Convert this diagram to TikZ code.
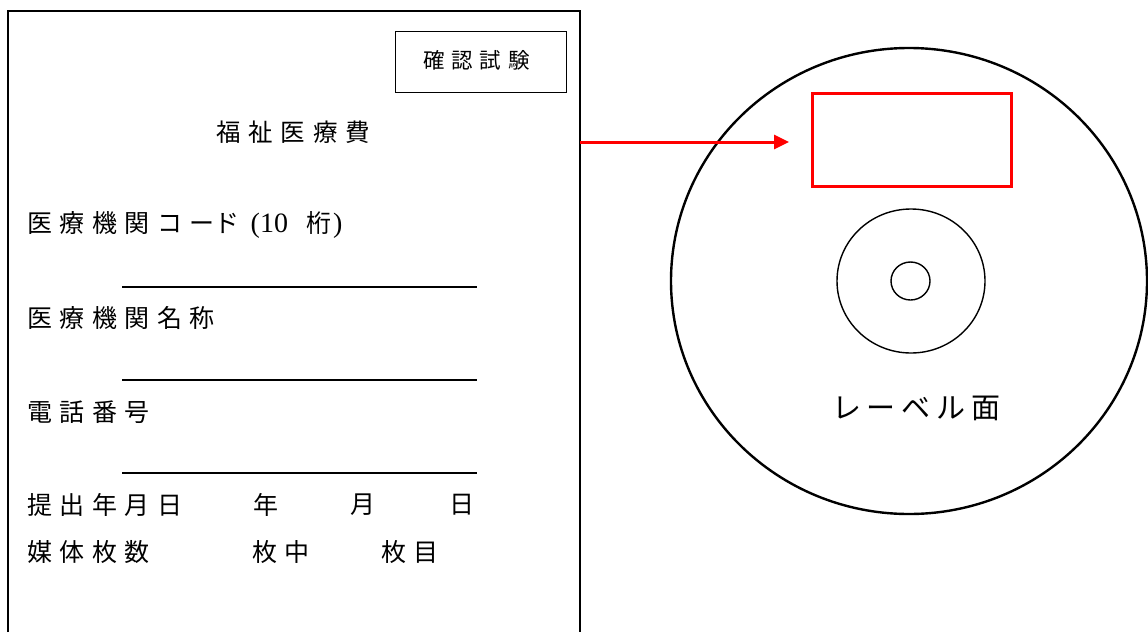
\documentclass[tikz,border=0pt]{standalone}
\usepackage{fontspec}
\setmainfont{Liberation Serif}
\newfontfamily\cjk{Noto Sans CJK JP}[LetterSpace=30]
\newfontfamily\cjkn{Noto Sans CJK JP}
\newfontfamily\cjkt{Noto Sans CJK JP}[LetterSpace=32]
\newfontfamily\cjkb{Noto Sans CJK JP}[LetterSpace=20]
\usetikzlibrary{arrows.meta,shapes.geometric}
\begin{document}
\begin{tikzpicture}[x=1pt,y=-1pt,
  txt/.style={anchor=west,inner sep=0pt,font=\fontsize{25}{28}\selectfont\cjk},
  uline/.style={line width=2pt},
  redbox/.style={draw=red,line width=3pt,minimum width=199pt,minimum height=93pt,inner sep=0pt},
  redarrow/.style={draw=red,line width=3pt,-{Triangle[length=15pt,width=14pt]}}]
\useasboundingbox (0,0) rectangle (1148,632);
% card
\draw[line width=1.6pt] (8,632) -- (8,11) -- (580,11) -- (580,632);
\coordinate (cardE) at (580,142);
\node[draw,line width=1.4pt,minimum width=171pt,minimum height=61pt,inner sep=0pt] (test) at (481,62) {};
\node[anchor=west,inner sep=0pt,font=\fontsize{21.5}{24}\selectfont\cjkt] (testlbl) at (423,60) {確認試験};
\node[anchor=west,inner sep=0pt,font=\fontsize{24.5}{28}\selectfont\cjkt] (title) at (216,132) {福祉医療費};
\node[txt] (code) at (27,225) {医療機関コー{\cjkn ド}\hspace{11pt}{\rmfamily\fontsize{28}{30}\selectfont(10}\hspace{18pt}{\cjkn 桁}\hspace{2pt}{\rmfamily\fontsize{28}{30}\selectfont)}};
\coordinate (l1a) at (122,287); \coordinate (l1b) at (477,287);
\draw[uline] (l1a) -- (l1b);
\node[txt] (name) at (27,318) {医療機関名称};
\coordinate (l2a) at (122,380); \coordinate (l2b) at (477,380);
\draw[uline] (l2a) -- (l2b);
\node[txt] (tel) at (27,412) {電話番号};
\coordinate (l3a) at (122,473); \coordinate (l3b) at (477,473);
\draw[uline] (l3a) -- (l3b);
\node[txt] (date) at (27,505) {提出年月日};
\node[txt] (year) at (253,505) {年};
\node[txt] (month) at (350,505) {月};
\node[txt] (day) at (449,505) {日};
\node[txt] (media) at (27,552) {媒体枚数};
\node[txt] (of) at (252,552) {枚中};
\node[txt] (nth) at (381,552) {枚目};
% disc
\node[draw,ellipse,line width=2.4pt,minimum width=476pt,minimum height=466pt,inner sep=0pt] (disc) at (909,281) {};
\node[draw,ellipse,line width=1.4pt,minimum width=148pt,minimum height=144pt,inner sep=0pt] (hub) at (911,281) {};
\node[draw,ellipse,line width=1.4pt,minimum width=39pt,minimum height=38pt,inner sep=0pt] (hole) at (910.5,281) {};
\node[anchor=west,inner sep=0pt,font=\fontsize{29}{32}\selectfont\cjkb] (lbl) at (832,408) {レーベル面};
\node[redbox] (area) at (912,140) {};
\coordinate (tip) at (789,142);
\draw[redarrow] (cardE) -- (tip);
\end{tikzpicture}
\end{document}
